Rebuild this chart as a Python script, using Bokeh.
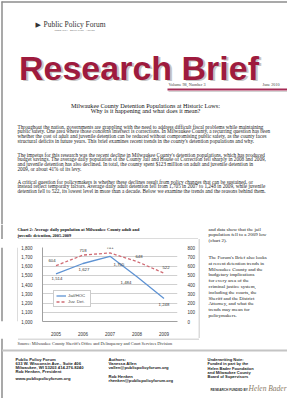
from bokeh.plotting import figure
from bokeh.models import (Range1d, FactorRange, LinearAxis, FixedTicker,
                          NumeralTickFormatter, ColumnDataSource, LabelSet)
from bokeh.layouts import column, row
from bokeh.embed import file_html
from bokeh.resources import INLINE
from bokeh.core.properties import value

# ---------------- chart data ----------------
years = ["2005", "2006", "2007", "2008", "2009"]
adult_pop = [1514, 1627, 1705, 1484, 1248]       # left axis
juvenile_pop = [604, 718, 741, 648, 522]         # right axis
left_ticks = [1000, 1100, 1200, 1300, 1400, 1500, 1600, 1700, 1800]
right_ticks = [0, 100, 200, 300, 400, 500, 600, 700, 800]
series_names = ["Jail/HOC", "Juv. Det."]

SERIF = "Liberation Serif"
SANS = "Liberation Sans"
BORDER = "#8c8c8c"
BOX = "#b8b8b8"
INK = "#1a1a1a"


def piece(x0, x1, y0, y1):
    f = figure(width=x1 - x0, height=y1 - y0,
               x_range=Range1d(x0, x1), y_range=Range1d(y1, y0),
               output_backend="svg", toolbar_location=None,
               x_axis_location=None, y_axis_location=None, min_border=0)
    f.grid.visible = False
    f.outline_line_color = None
    f.background_fill_color = "white"
    f.border_fill_color = "white"
    return f


def put(f, x, ys, texts, size, font=SERIF, style="normal", color=INK,
        align="left", baseline="middle"):
    if not isinstance(ys, list):
        ys = [ys]
        texts = [texts]
    f.text(x=[x] * len(ys), y=ys, text=texts, text_font=value(font),
           text_font_size=f"{size}px", text_font_style=style,
           text_color=color, text_align=align, text_baseline=baseline)


def seg(f, x0, y0, x1, y1, color, w):
    f.segment(x0=[x0], y0=[y0], x1=[x1], y1=[y1], line_color=color, line_width=w)


# ---------------- A: header + body ----------------
A = piece(8, 295, 8, 232)
seg(A, 9, 9.5, 295, 9.5, BORDER, 1.5)
seg(A, 9.5, 9, 9.5, 232, BORDER, 1.5)
put(A, 43, 32, "\u25B6", 7, font="DejaVu Sans", color="#333333")
put(A, 51, 32, "Public Policy Forum", 7.5, color="#333333")
put(A, 62, 38, "RESEARCH \u00B7 EDUCATION \u00B7 ACTION", 2.4, font=SANS, color="#777777")
put(A, 28.5, 76.5, "Research Brief", 34, font=SANS, style="bold", color="#c6c6c6",
    baseline="alphabetic")
put(A, 26.5, 75, "Research Brief", 34, font=SANS, style="bold", color="#9e1b3e",
    baseline="alphabetic")
put(A, 176, 91.5, "Volume 98, Number 3", 4.2, color="#444444")
put(A, 270, 91.5, "June 2010", 4.2, color="#444444")
seg(A, 175, 97, 295, 97, "#a52a55", 2)
seg(A, 176, 99, 295, 99, "#d2d2d2", 1)
put(A, 153, 112.5, "Milwaukee County Detention Populations at Historic Lows:", 6.2,
    color="#111111", align="center")
put(A, 153, 118.3, "Why is it happening and what does it mean?", 6.2,
    color="#111111", align="center")

P1 = [
    "Throughout the nation, governments are grappling with the need to address difficult fiscal problems while maintaining",
    "public safety. One area where those concerns intersect is corrections. In Milwaukee County, a recurring question has been",
    "whether the cost of adult and juvenile detention can be reduced without compromising public safety, as the county faces",
    "structural deficits in future years. This brief examines recent trends in the county's detention populations and why.",
]
P2 = [
    "The impetus for this research was the recent decline in Milwaukee County's detention populations, which has produced",
    "budget savings. The average daily population of the County Jail and House of Correction fell sharply in 2008 and 2009,",
    "and juvenile detention has also declined. In total, the county spent $123 million on adult and juvenile detention in",
    "2009, or about 41% of its levy.",
]
P3 = [
    "A critical question for policymakers is whether these declines result from policy changes that can be sustained, or",
    "instead reflect temporary factors. Average daily adult detention fell from 1,705 in 2007 to 1,248 in 2009, while juvenile",
    "detention fell to 522, its lowest level in more than a decade. Below we examine the trends and the reasons behind them.",
]
put(A, 25, [134 + 4.7 * i for i in range(4)], P1, 5.2)
put(A, 25, [162 + 4.7 * i for i in range(4)], P2, 5.2)
put(A, 25, [189 + 4.7 * i for i in range(3)], P3, 5.2)

# ---------------- T: chart title strip ----------------
T = piece(8, 206, 232, 247)
seg(T, 9.5, 232, 9.5, 247, BORDER, 1.5)
put(T, 25, [237, 242.5],
    ["Chart 2: Average daily population at Milwaukee County adult and",
     "juvenile detention, 2005-2009"], 4.3, style="bold", color="#111111")
seg(T, 25.5, 246.5, 206, 246.5, BOX, 1)

# ---------------- L: left strip ----------------
L = piece(8, 26, 247, 346)
seg(L, 9.5, 247, 9.5, 346, BORDER, 1.5)
seg(L, 25.5, 247, 25.5, 346, BOX, 1)

# ---------------- chart ----------------
src = ColumnDataSource(dict(
    year=years, adult=adult_pop, juv=juvenile_pop,
    adult_lbl=[f"{v:,}" for v in adult_pop],
    juv_lbl=[f"{v:,}" for v in juvenile_pop],
    a_dx=[1, 1, 9, -11, 0], a_dy=[-5, -6, -8, -6, -6],
    j_dx=[-4, 0, 0, 2, 2], j_dy=[5, 5, 5, 5, 6],
))

chart = figure(width=180, height=99, x_range=FactorRange(factors=years),
               y_range=Range1d(left_ticks[0], left_ticks[-1]),
               output_backend="svg", toolbar_location=None,
               min_border_left=21, min_border_right=18,
               min_border_top=8, min_border_bottom=14)
chart.extra_y_ranges = {"juv": Range1d(right_ticks[0], right_ticks[-1])}
rax = LinearAxis(y_range_name="juv", ticker=FixedTicker(ticks=right_ticks))
chart.add_layout(rax, "right")
chart.yaxis[0].ticker = FixedTicker(ticks=left_ticks)
chart.yaxis[0].formatter = NumeralTickFormatter(format="0,0")
for ax in chart.axis:
    ax.major_tick_line_color = None
    ax.minor_tick_line_color = None
    ax.major_label_text_font_size = "4.5px"
    ax.major_label_text_font = SANS
    ax.major_label_text_color = "#333333"
    ax.major_label_standoff = 4
    ax.axis_line_color = "#a0a0a0"
rax.axis_line_color = None
chart.xgrid.grid_line_color = None
chart.ygrid.grid_line_color = "#d0d0d0"
chart.outline_line_color = None
chart.background_fill_color = "white"
chart.border_fill_color = "white"

chart.line("year", "adult", source=src, line_color="#5f93d3", line_width=1.3,
           legend_label=series_names[0])
chart.line("year", "juv", source=src, y_range_name="juv", line_color="#d06b74",
           line_width=1.3, line_dash="3 2", legend_label=series_names[1])
chart.add_layout(LabelSet(x="year", y="adult", text="adult_lbl", source=src,
                          x_offset="a_dx", y_offset="a_dy",
                          text_font_size="4.3px", text_align="center",
                          text_baseline="middle", text_color="#333333"))
chart.add_layout(LabelSet(x="year", y="juv", text="juv_lbl", source=src,
                          y_range_name="juv", x_offset="j_dx", y_offset="j_dy",
                          text_font_size="4.3px", text_align="center",
                          text_baseline="middle", text_color="#333333"))
lg = chart.legend[0]
lg.location = (11, 14)
lg.label_text_font_size = "4.3px"
lg.label_height = 5
lg.glyph_height = 5
lg.glyph_width = 10
lg.label_standoff = 2
lg.spacing = 1
lg.padding = 2
lg.margin = 0
lg.border_line_color = "#999999"
lg.background_fill_alpha = 1

# ---------------- R: right text column ----------------
R = piece(206, 295, 232, 346)
seg(R, 206.5, 246.5, 206.5, 346, BOX, 1)
RC1 = ["and data show that the jail", "population fell to a 2009 low", "(chart 2)."]
RC2 = ["The Forum's Brief also looks", "at recent detention trends in",
       "Milwaukee County and the", "budgetary implications",
       "for every area of the", "criminal justice system,",
       "including the courts, the", "Sheriff and the District",
       "Attorney, and what the", "trends may mean for",
       "policymakers."]
put(R, 216, [237 + 5.3 * i for i in range(3)], RC1, 5.0)
put(R, 216, [265 + 5.8 * i for i in range(len(RC2))], RC2, 5.0)

# ---------------- C: source + footer ----------------
C = piece(8, 295, 346, 406)
seg(C, 9.5, 346, 9.5, 406, BORDER, 1.5)
seg(C, 25.5, 346.5, 206.5, 346.5, BOX, 1)
put(C, 25, 350.5, "Source: Milwaukee County Sheriff's Office and Delinquency and Court Services Division",
    4.3, color="#333333")
seg(C, 9.5, 358, 295, 358, "#c4c4c4", 2)
put(C, 23, [367, 371, 375, 379, 386],
    ["Public Policy Forum", "633 W. Wisconsin Ave., Suite 406",
     "Milwaukee, WI 53203  414.276.8240", "Rob Henken, President",
     "www.publicpolicyforum.org"], 4.2, font=SANS, style="bold", color="#222222")
put(C, 116, [367, 371, 375, 384, 388],
    ["Authors:", "Vanessa Allen", "vallen@publicpolicyforum.org",
     "Rob Henken", "rhenken@publicpolicyforum.org"], 4.2, font=SANS,
    style="bold", color="#222222")
put(C, 215, [367, 371, 376, 380, 384],
    ["Underwriting Note:", "Funded in part by the", "Helen Bader Foundation",
     "and Milwaukee County", "Board of Supervisors"], 4.0, font=SANS,
    style="bold", color="#222222")
put(C, 218, 397, "RESEARCH FUNDED BY", 3.2, font=SANS, style="bold", color="#333333")
put(C, 256, 396, "Helen Bader", 7.5, style="italic", color="#8a7a66")

layout = column(A, row(column(T, row(L, chart)), R), C)
open("out.html", "w").write(file_html(layout, INLINE))
